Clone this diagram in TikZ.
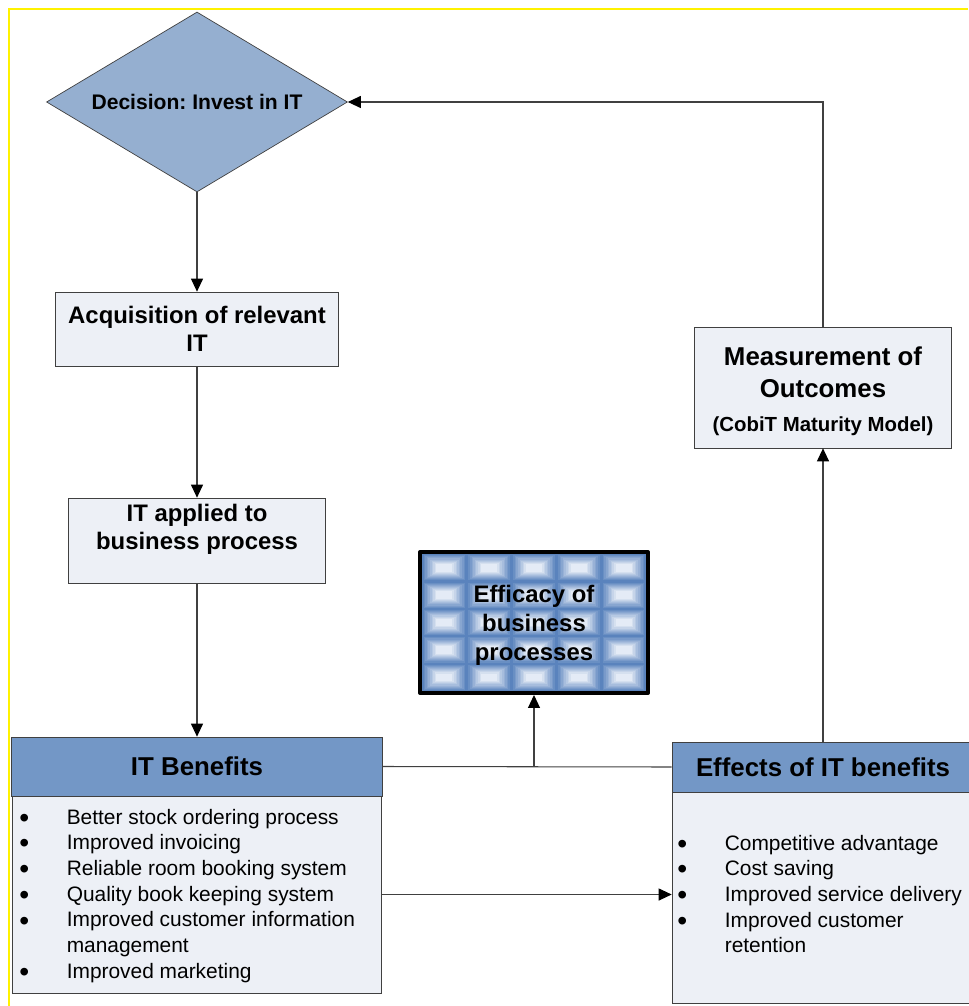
\documentclass[tikz,border=0pt]{standalone}
\usepackage{graphicx}
\usepackage{fontspec}
\setmainfont{Liberation Sans}
\usetikzlibrary{shapes.geometric,arrows.meta}

\definecolor{diafill}{HTML}{95AFD0}
\definecolor{headblue}{HTML}{7397C6}
\definecolor{boxfill}{HTML}{EDF0F6}
\definecolor{linegray}{HTML}{404040}
\definecolor{tileblue}{HTML}{5A83BD}
\definecolor{tilelight}{HTML}{F4F7FC}

\newcommand\blt{\raisebox{-1.8pt}{\scalebox{1.35}{\textbullet}}}

\tikzset{
  box/.style={draw=linegray, fill=boxfill, inner sep=0pt, align=center,
    font=\bfseries\fontsize{13.6}{15.9}\selectfont},
  headbox/.style={draw=linegray, fill=headblue, inner sep=0pt,
    font=\bfseries\fontsize{14.7}{17}\selectfont},
  bodybox/.style={draw=linegray, fill=boxfill, inner sep=0pt},
  bullets/.style={inner sep=0pt, anchor=base west,
    font=\fontsize{11.9}{14.65}\selectfont},
  flow/.style={draw=linegray, line width=0.6pt,
    -{Triangle[length=0.26cm,width=0.24cm,color=black]}},
  link/.style={draw=linegray, line width=0.6pt}
}

\begin{document}
\frenchspacing
\begin{tikzpicture}[x=0.02cm,y=-0.02cm]
  \useasboundingbox (0,0) rectangle (968,1006);

  % yellow frame
  \draw[yellow, line width=0.05cm] (9,1006) -- (9,9) -- (968,9);

  % left column
  \node[diamond, aspect=1.672, draw=linegray, fill=diafill, inner sep=0pt,
    minimum width=6.02cm, minimum height=3.6cm,
    font=\bfseries\fontsize{12}{14}\selectfont] (dec) at (197,102) {Decision: Invest in IT};
  \node[box, minimum width=5.66cm, minimum height=1.48cm] (acq) at (197,329)
    {Acquisition of relevant\\IT};
  \node[box, minimum width=5.14cm, minimum height=1.7cm] (app) at (197,540.5)
    {IT applied to\\business process\\\mbox{}};

  % tiles of the efficacy box
  \foreach \c in {0,...,4}
    \foreach \r in {0,...,4}
      \foreach \k in {0,...,9}{
        \pgfmathsetmacro\dx{\k*1.6}
        \pgfmathsetmacro\dy{\k*1.1}
        \pgfmathtruncatemacro\m{100-\k*10}
        \fill[tileblue!\m!tilelight] ({422+\c*44.8+\dx},{554+\r*27.4+\dy})
          rectangle ({422+(\c+1)*44.8-\dx},{554+(\r+1)*27.4-\dy});
      }
  \node[draw=black, line width=0.08cm, line join=round, inner sep=0pt,
    minimum width=4.56cm, minimum height=2.82cm, align=center,
    font=\bfseries\fontsize{13.6}{16.4}\selectfont] (eff) at (534,622.5)
    {\rule{0pt}{0.98em}Efficacy of\\business\\processes};

  % IT benefits
  \node[bodybox, minimum width=7.38cm, minimum height=3.94cm] (benBody) at (197,894.5) {};
  \node[headbox, minimum width=7.42cm, minimum height=1.18cm] (benHead) at (197,766.5) {IT Benefits};
  \node[bullets] (benList) at (19,824) {\begin{tabular}[t]{@{}p{27pt}@{}l@{}}
      \blt & Better stock ordering process\\
      \blt & Improved invoicing\\
      \blt & Reliable room booking system\\
      \blt & Quality book keeping system\\
      \blt & Improved customer information\\
           & management\\
      \blt & Improved marketing
    \end{tabular}};

  % effects of IT benefits
  \node[bodybox, minimum width=6.04cm, minimum height=4.22cm] (effBody) at (823,897.5) {};
  \node[headbox, minimum width=6.04cm, minimum height=1.0cm] (effHead) at (823,767) {Effects of IT benefits};
  \node[bullets] (effList) at (677,850) {\begin{tabular}[t]{@{}p{27pt}@{}l@{}}
      \blt & Competitive advantage\\
      \blt & Cost saving\\
      \blt & Improved service delivery\\
      \blt & Improved customer\\
           & retention
    \end{tabular}};

  \node[box, minimum width=5.14cm, minimum height=2.42cm,
    font=\bfseries\fontsize{14.7}{18.1}\selectfont] (meas) at (823,387.5)
    {\rule{0pt}{1.02em}Measurement of\\Outcomes\\[1pt]{\fontsize{11.6}{14}\selectfont(CobiT Maturity Model)}};

  % connectors
  \draw[flow] (dec.south) -- (acq.north);
  \draw[flow] (acq.south) -- (app.north);
  \draw[flow] (app.south) -- (benHead.north);
  \draw[link] (benHead.east) -- (effHead.west);
  \coordinate (split) at (benHead.east -| eff.south);
  \draw[flow] (split) -- (eff.south);
  \draw[flow] (benBody.east) -- (benBody.east -| effBody.west);
  \draw[flow] (effHead.north) -- (meas.south);
  \draw[flow] (meas.north) |- (dec.east);
\end{tikzpicture}
\end{document}
